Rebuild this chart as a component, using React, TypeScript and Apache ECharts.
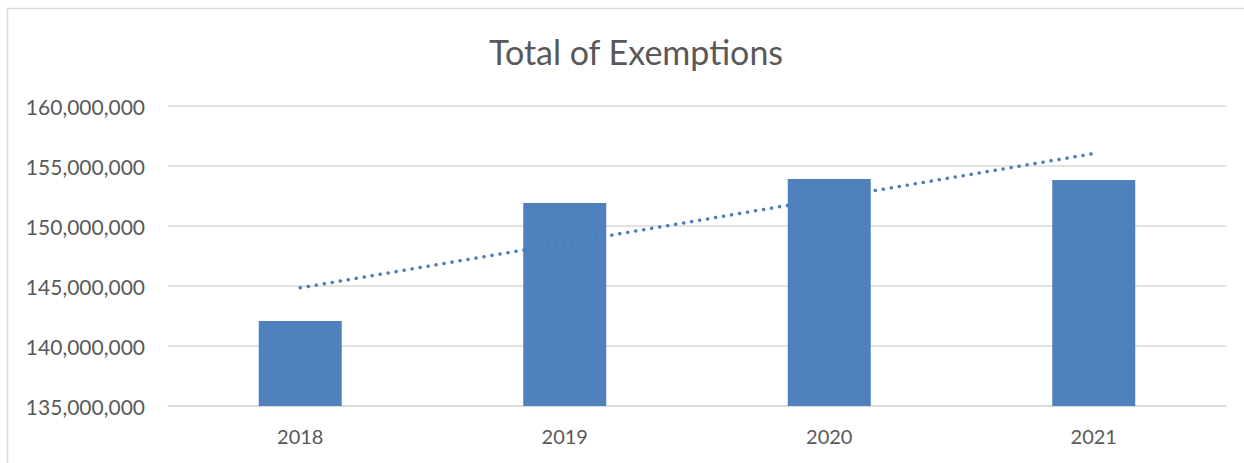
import React, { useEffect, useRef } from "react";
import * as echarts from "echarts";

const categories: string[] = ["2018", "2019", "2020", "2021"];
const exemptions: number[] = [142080000, 151920000, 153920000, 153840000];
const yTicks = { min: 135000000, max: 160000000, interval: 5000000 };

function linearTrend(values: number[]): number[] {
  const n = values.length;
  const xs = values.map((_, i) => i + 1);
  const mx = xs.reduce((a, b) => a + b, 0) / n;
  const my = values.reduce((a, b) => a + b, 0) / n;
  let num = 0;
  let den = 0;
  for (let i = 0; i < n; i++) {
    num += (xs[i] - mx) * (values[i] - my);
    den += (xs[i] - mx) * (xs[i] - mx);
  }
  const slope = num / den;
  return xs.map((x) => my + slope * (x - mx));
}

const trend = linearTrend(exemptions);

export default function App() {
  const ref = useRef<HTMLDivElement>(null);
  useEffect(() => {
    if (!ref.current) return;
    const chart = echarts.init(ref.current, undefined, { renderer: "svg" });
    const font = "Lato, 'Noto Sans', sans-serif";
    chart.setOption({
      animation: false,
      backgroundColor: "#ffffff",
      title: {
        text: "Total of Exemptions",
        left: 484,
        top: 29,
        textStyle: {
          fontFamily: font,
          fontSize: 34,
          fontWeight: "normal",
          color: "#595959",
        },
      },
      graphic: [
        {
          type: "polyline",
          shape: { points: [[7.5, 470], [7.5, 8.5], [1250, 8.5]] },
          style: { stroke: "#d9d9d9", lineWidth: 1.5, fill: "none" },
          silent: true,
        },
      ],
      grid: { left: 168, right: 18, top: 106, bottom: 57, containLabel: false },
      xAxis: {
        type: "category",
        data: categories,
        axisLine: { show: true, lineStyle: { color: "#d9d9d9", width: 1.5 } },
        axisTick: { show: false },
        axisLabel: {
          fontFamily: font,
          fontSize: 20,
          color: "#595959",
          margin: 20,
        },
      },
      yAxis: {
        type: "value",
        min: yTicks.min,
        max: yTicks.max,
        interval: yTicks.interval,
        axisLine: { show: false },
        axisTick: { show: false },
        splitLine: { lineStyle: { color: "#d9d9d9", width: 1.5 } },
        axisLabel: {
          fontFamily: font,
          fontSize: 21,
          color: "#595959",
          margin: 23,
          formatter: (v: number) => v.toLocaleString("en-US"),
        },
      },
      series: [
        {
          type: "bar",
          data: exemptions,
          barWidth: 83,
          itemStyle: { color: "#4f81bd" },
          z: 2,
        },
        {
          type: "line",
          data: trend,
          symbol: "none",
          lineStyle: {
            color: "#4a7ebb",
            width: 3.5,
            type: [0.1, 8],
            cap: "round",
          },
          z: 3,
        },
      ],
    });
    return () => chart.dispose();
  }, []);
  return (
    <div
      ref={ref}
      style={{ position: "fixed", left: 0, top: 0, width: 1244, height: 463 }}
    />
  );
}
